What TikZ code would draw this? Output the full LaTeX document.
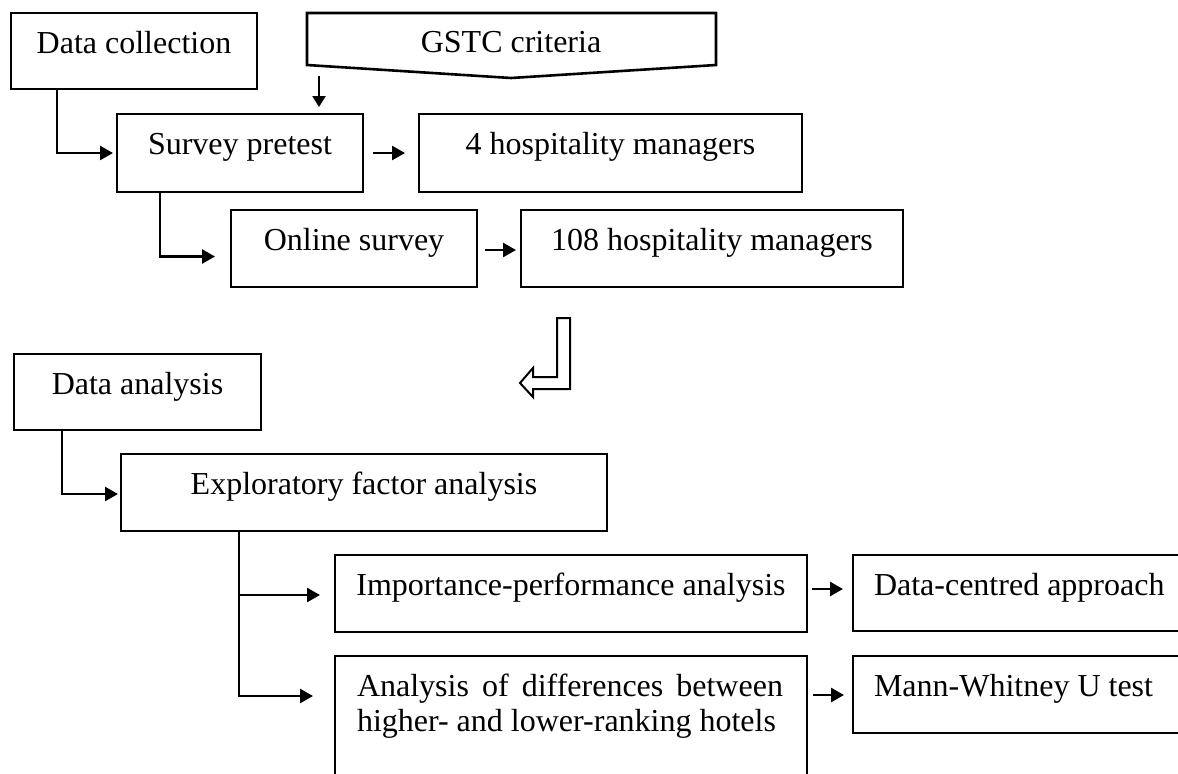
\documentclass[tikz,border=0pt]{standalone}
\usepackage{fontspec}
\setmainfont{Liberation Serif}
\usetikzlibrary{arrows.meta,calc}
\begin{document}
\begin{tikzpicture}[x=0.5pt,y=-0.5pt,
  box/.style={draw,line width=1.3pt,inner sep=0pt,outer sep=0pt,anchor=north west},
  lbl/.style={inner sep=0pt,outer sep=0pt,font=\fontsize{16}{19}\selectfont},
  conn/.style={line width=1.3pt,-{Triangle[length=6.5pt,width=7pt]}},
  connsmall/.style={line width=1.1pt,-{Triangle[length=5.5pt,width=6.5pt]}},
  outline/.style={line width=1.3pt,line join=miter}]
\useasboundingbox (0,0) rectangle (1178,773);
\clip (0,0) rectangle (1178,773);

% boxes
\node[box,minimum width=123pt,minimum height=38pt] (dc) at (11,13) {};
\node[lbl,anchor=base] (dct) at ($(dc.north)+(0,40)$) {Data collection};

\draw[outline] (307,13) -- (716,13) -- (716,65) -- (511,78) -- (307,65) -- cycle;
\node[lbl,anchor=base] (gstc) at (511,52) {GSTC criteria};

\node[box,minimum width=123pt,minimum height=39pt] (sp) at (117,114) {};
\node[lbl,anchor=base] (spt) at ($(sp.north)+(0,40)$) {Survey pretest};

\node[box,minimum width=191.5pt,minimum height=39pt] (hm4) at (419,114) {};
\node[lbl,anchor=base] (hm4t) at ($(hm4.north)+(0,40)$) {4 hospitality managers};

\node[box,minimum width=123pt,minimum height=38.5pt] (os) at (231,210) {};
\node[lbl,anchor=base] (ost) at ($(os.north)+(0,40)$) {Online survey};

\node[box,minimum width=191pt,minimum height=38.5pt] (hm108) at (521,210) {};
\node[lbl,anchor=base] (hm108t) at ($(hm108.north)+(0,40)$) {108 hospitality managers};

\node[box,minimum width=123.5pt,minimum height=38pt] (da) at (14,354) {};
\node[lbl,anchor=base] (dat) at ($(da.north)+(0,40)$) {Data analysis};

\node[box,minimum width=243pt,minimum height=38.5pt] (efa) at (121,454) {};
\node[lbl,anchor=base] (efat) at ($(efa.north)+(0,40)$) {Exploratory factor analysis};

\node[box,minimum width=236pt,minimum height=38.5pt] (ipa) at (335,555) {};
\node[lbl,anchor=base] (ipat) at ($(ipa.north)+(0,40)$) {Importance-performance analysis};

\node[box,minimum width=173.5pt,minimum height=38pt] (dca) at (853,555) {};
\node[lbl,anchor=base west] (dcat) at ($(dca.north west)+(21,40)$) {Data-centred approach};

\node[box,minimum width=236pt,minimum height=72pt] (ada) at (335,656) {};
\node[lbl,anchor=base west] (adat1) at ($(ada.north west)+(22,40)$) {\makebox[213pt][s]{Analysis of differences between}};
\node[lbl,anchor=base west] (adat2) at ($(ada.north west)+(22,75)$) {higher- and lower-ranking hotels};

\node[box,minimum width=173.5pt,minimum height=38.5pt] (mw) at (853,656) {};
\node[lbl,anchor=base west] (mwt) at ($(mw.north west)+(21,40)$) {Mann-Whitney U test};

% connectors
\draw[conn,shorten >=2pt] ($(dc.south west)+(46,0)$) |- (sp.west);
\coordinate (g1) at (319,76);
\draw[connsmall,shorten >=3.5pt] (g1) -- (sp.north -| g1);
\draw[conn] ($(sp.east)+(10,0)$) -- ($(hm4.west)+(-14,0)$);
\draw[conn] ($(sp.south west)+(43,0)$) |- ($(os.west)+(-16,8)$);
\draw[conn] ($(os.east)+(8,1.5)$) -- ($(hm108.west)+(-5,1.5)$);

% hollow arrow
\draw[line width=1pt,line join=miter] (557,318) -- (570,318) -- (570,389) -- (533,389) -- (533,397) -- (520,383) -- (533,368) -- (533,377) -- (557,377) -- cycle;

\draw[conn,shorten >=1.5pt] ($(da.south west)+(48,0)$) |- ($(efa.west)+(0,1.5)$);
\coordinate (eb) at ($(efa.south west)+(118,0)$);
\draw[conn] (eb) |- ($(ipa.west)+(-15,1.5)$);
\draw[conn] (eb) |- ($(ada.west)+(-22,-32)$);
\draw[conn] ($(ipa.east)+(5,-4.5)$) -- ($(dca.west)+(-10,-4)$);
\draw[conn] ($(ada.east)+(6,-33)$) -- ($(mw.west)+(-9,0.5)$);
\end{tikzpicture}
\end{document}
